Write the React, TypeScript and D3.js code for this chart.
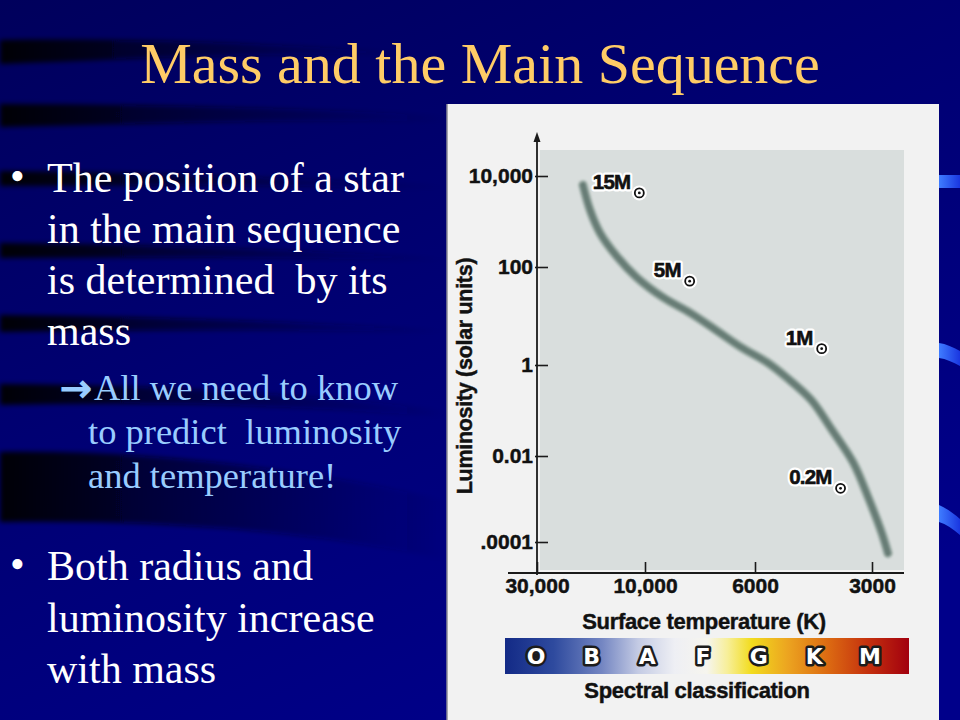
import React, { useEffect, useRef } from 'react';
import * as d3 from 'd3';

// Main sequence track: surface temperature (K) and luminosity (solar units)
const trackTemps = [18800, 17500, 15800, 13300, 10900, 9200, 8100, 7200, 6400, 5600, 5000, 4300, 3800, 3350, 3050, 2830, 2730];
const trackLums = [6300, 1800, 560, 170, 62, 24, 11.5, 5.2, 2.3, 1.15, 0.55, 0.17, 0.037, 0.0069, 0.00095, 0.00016, 0.000055];

// Mass labels, placed in data space
const massLabels = ['15M', '5M', '1M', '0.2M'];
const massLabelTemps = [17000, 9600, 5000, 4900];
const massLabelLums = [5200, 62, 2.6, 0.0022];

const tempTicks = [30000, 10000, 6000, 3000];
const tempTickLabels = ['30,000', '10,000', '6000', '3000'];
const lumTicks = [1e4, 1e2, 1, 1e-2, 1e-4];
const lumTickLabels = ['10,000', '100', '1', '0.01', '.0001'];

const spectralClasses = ['O', 'B', 'A', 'F', 'G', 'K', 'M'];

const bullet1 = ['The position of a star', 'in the main sequence', 'is determined  by its', 'mass'];
const subBullet = ['All we need to know', 'to predict  luminosity', 'and temperature!'];
const bullet2 = ['Both radius and', 'luminosity increase', 'with mass'];

const SERIF = '"Liberation Serif", "Times New Roman", serif';
const SANS = '"Liberation Sans", Arial, Helvetica, sans-serif';

const App: React.FC = () => {
  const svgRef = useRef<SVGSVGElement>(null);

  useEffect(() => {
    if (!svgRef.current) return;
    document.body.style.margin = '0';
    const svg = d3.select(svgRef.current);
    svg.selectAll('*').remove();

    const defs = svg.append('defs');

    // background gradient
    const bg = defs.append('linearGradient').attr('id', 'bg')
      .attr('x1', 0).attr('y1', 0).attr('x2', 0.6).attr('y2', 1);
    bg.append('stop').attr('offset', '0%').attr('stop-color', '#00005c');
    bg.append('stop').attr('offset', '50%').attr('stop-color', '#000074');
    bg.append('stop').attr('offset', '100%').attr('stop-color', '#00008a');

    const band = defs.append('linearGradient').attr('id', 'band')
      .attr('x1', 0).attr('y1', 0).attr('x2', 1).attr('y2', 0);
    band.append('stop').attr('offset', '0%').attr('stop-color', '#000000').attr('stop-opacity', 0.95);
    band.append('stop').attr('offset', '45%').attr('stop-color', '#000010').attr('stop-opacity', 0.5);
    band.append('stop').attr('offset', '100%').attr('stop-color', '#000030').attr('stop-opacity', 0);

    const streak = defs.append('linearGradient').attr('id', 'streak')
      .attr('x1', 0).attr('y1', 0).attr('x2', 1).attr('y2', 0);
    streak.append('stop').attr('offset', '0%').attr('stop-color', '#3f7cff');
    streak.append('stop').attr('offset', '100%').attr('stop-color', '#1a36e0');

    const spec = defs.append('linearGradient').attr('id', 'spec')
      .attr('x1', 0).attr('y1', 0).attr('x2', 1).attr('y2', 0);
    [
      ['0%', '#132a86'], ['12%', '#2e4a9e'], ['24%', '#7486c2'], ['33%', '#c4cbe4'],
      ['42%', '#eeeff4'], ['50%', '#f6f5ee'], ['55%', '#f7ef9a'], ['61%', '#f2dc1e'],
      ['70%', '#eca420'], ['80%', '#dc6a12'], ['90%', '#c4300e'], ['100%', '#a2000e'],
    ].forEach(([o, c]) => spec.append('stop').attr('offset', o).attr('stop-color', c));

    const blur = defs.append('filter').attr('id', 'soft')
      .attr('x', '-10%').attr('y', '-10%').attr('width', '120%').attr('height', '120%');
    blur.append('feGaussianBlur').attr('stdDeviation', 1.3);

    const blurBig = defs.append('filter').attr('id', 'softer')
      .attr('x', '-10%').attr('y', '-50%').attr('width', '120%').attr('height', '200%');
    blurBig.append('feGaussianBlur').attr('stdDeviation', 2.5);

    // slide background
    svg.append('rect').attr('width', 960).attr('height', 720).attr('fill', 'url(#bg)');

    const bands = [
      'M0,40 C120,38 260,42 420,54 C260,52 120,60 0,64 Z',
      'M0,104 C150,104 300,108 447,116 L447,122 C300,118 150,124 0,127 Z',
      'M0,171 C150,172 300,178 447,186 L447,189 C300,185 150,185 0,186 Z',
      'M0,243 C150,244 300,250 447,258 L447,261 C300,257 150,257 0,258 Z',
      'M0,315 C150,316 300,322 447,330 L447,333 C300,329 150,330 0,332 Z',
      'M0,384 C150,384 300,394 447,410 L447,418 C300,404 150,402 0,405 Z',
      'M0,452 C150,450 300,468 447,500 L447,560 C300,528 150,520 0,522 Z',
    ];
    svg.append('g').attr('filter', 'url(#softer)').selectAll('path').data(bands).join('path')
      .attr('d', d => d).attr('fill', 'url(#band)');

    const streaks = [
      'M939,175 L960,175 L960,188 L939,188 Z',
      'M939,343 C946,344 953,347 960,351 L960,366 C953,362 946,359 939,358 Z',
      'M939,505 C946,508 953,513 960,519 L960,535 C953,529 946,524 939,522 Z',
    ];
    svg.append('g').selectAll('path').data(streaks).join('path')
      .attr('d', d => d).attr('fill', 'url(#streak)');

    // title
    svg.append('text').attr('x', 480).attr('y', 83).attr('text-anchor', 'middle')
      .attr('font-family', SERIF).attr('font-size', 58).attr('fill', '#ffcc66')
      .text('Mass and the Main Sequence');

    // bullets
    const txt = svg.append('g').attr('font-family', SERIF);
    txt.append('text').attr('x', 10).attr('y', 190).attr('font-size', 42).attr('fill', '#fff').text('•');
    bullet1.forEach((s, i) => {
      txt.append('text').attr('x', 47).attr('y', 192 + i * 51).attr('font-size', 42)
        .attr('fill', '#ffffff').style('white-space', 'pre').text(s);
    });
    txt.append('text').attr('x', 60).attr('y', 401).attr('font-family', '"DejaVu Sans", sans-serif')
      .attr('font-size', 38).attr('fill', '#99ccff').attr('stroke', '#99ccff').attr('stroke-width', 1.4)
      .text('→');
    subBullet.forEach((s, i) => {
      txt.append('text').attr('x', i === 0 ? 94 : 88).attr('y', 400 + i * 44).attr('font-size', 36.5)
        .attr('fill', '#99ccff').style('white-space', 'pre').text(s);
    });
    txt.append('text').attr('x', 10).attr('y', 578).attr('font-size', 42).attr('fill', '#fff').text('•');
    bullet2.forEach((s, i) => {
      txt.append('text').attr('x', 47).attr('y', 580 + i * 51.5).attr('font-size', 42)
        .attr('fill', '#ffffff').text(s);
    });

    // figure panel
    svg.append('rect').attr('x', 447).attr('y', 104).attr('width', 492).attr('height', 616).attr('fill', '#f2f2f2');
    svg.append('line').attr('x1', 447).attr('x2', 447).attr('y1', 104).attr('y2', 720)
      .attr('stroke', '#8a8a96').attr('stroke-width', 1.5);

    const plot = { left: 540, right: 904, top: 150, bottom: 570, axisY: 573 };
    svg.append('rect').attr('x', plot.left).attr('y', plot.top)
      .attr('width', plot.right - plot.left).attr('height', plot.bottom - plot.top).attr('fill', '#d9dedd');

    // non-uniform scales of the original diagram (piecewise log)
    const x = d3.scaleLog().domain(tempTicks).range([537, 645, 755, 872]);
    const y = d3.scaleLog().domain(lumTicks).range([176, 267, 365, 456, 542]);
    const x0 = x(tempTicks[0]);

    // main sequence band
    const line = d3.line<number>()
      .x(i => x(trackTemps[i]))
      .y(i => y(trackLums[i]))
      .curve(d3.curveCatmullRom.alpha(0.5));
    const idx = d3.range(trackTemps.length);
    svg.append('path').datum(idx).attr('d', line).attr('fill', 'none')
      .attr('stroke', '#a7b6b0').attr('stroke-width', 10).attr('stroke-linecap', 'round')
      .attr('filter', 'url(#soft)');
    svg.append('path').datum(idx).attr('d', line).attr('fill', 'none')
      .attr('stroke', '#687d76').attr('stroke-width', 6).attr('stroke-linecap', 'round')
      .attr('filter', 'url(#soft)');

    // axes
    const axisColor = '#1a1a1a';
    const heavy = (sel: d3.Selection<any, any, any, any>, size: number) =>
      sel.attr('font-family', SANS).attr('font-size', size).attr('font-weight', 700)
        .attr('fill', '#111').attr('stroke', '#111').attr('stroke-width', 0.45);

    const yAxis = svg.append('g').attr('transform', `translate(${x0},0)`)
      .call(d3.axisLeft(y).tickValues(lumTicks).tickFormat((_, i) => lumTickLabels[i])
        .tickSizeInner(-11).tickSizeOuter(0).tickPadding(4));
    yAxis.select('.domain').remove();
    yAxis.selectAll('line').attr('stroke', axisColor).attr('stroke-width', 1.6).attr('x1', -2);
    heavy(yAxis.selectAll('text'), 21);

    const xAxis = svg.append('g').attr('transform', `translate(0,${plot.axisY})`)
      .call(d3.axisBottom(x).tickValues(tempTicks).tickFormat((_, i) => tempTickLabels[i])
        .tickSizeInner(-11).tickSizeOuter(0).tickPadding(5));
    xAxis.select('.domain').remove();
    xAxis.selectAll('line').attr('stroke', axisColor).attr('stroke-width', 1.6);
    heavy(xAxis.selectAll('text'), 21);

    svg.append('line').attr('x1', 508).attr('x2', plot.right).attr('y1', plot.axisY).attr('y2', plot.axisY)
      .attr('stroke', axisColor).attr('stroke-width', 1.8);
    svg.append('line').attr('x1', x0).attr('x2', x0).attr('y1', 138).attr('y2', plot.axisY + 2)
      .attr('stroke', axisColor).attr('stroke-width', 1.8);
    svg.append('path').attr('d', `M${x0},132 L${x0 - 3.5},142 L${x0 + 3.5},142 Z`).attr('fill', axisColor);

    // axis titles
    heavy(svg.append('text').attr('transform', `translate(472,376) rotate(-90)`).attr('text-anchor', 'middle'), 21.5)
      .attr('letter-spacing', -0.3).text('Luminosity (solar units)');
    heavy(svg.append('text').attr('x', 704).attr('y', 629).attr('text-anchor', 'middle'), 22)
      .attr('letter-spacing', -0.3).text('Surface temperature (K)');

    // mass labels with solar symbol
    const ml = svg.append('g');
    massLabels.forEach((s, i) => {
      const lx = x(massLabelTemps[i]);
      const ly = y(massLabelLums[i]);
      const halo = ml.append('text').attr('x', lx).attr('y', ly)
        .attr('font-family', SANS).attr('font-size', 20.5).attr('font-weight', 700)
        .attr('letter-spacing', -0.8)
        .attr('fill', '#ffffff').attr('stroke', '#ffffff').attr('stroke-width', 5)
        .attr('stroke-linejoin', 'round').text(s);
      ml.append('text').attr('x', lx).attr('y', ly)
        .attr('font-family', SANS).attr('font-size', 20.5).attr('font-weight', 700)
        .attr('letter-spacing', -0.8)
        .attr('fill', '#111').attr('stroke', '#111').attr('stroke-width', 0.6).text(s);
      const len = (halo.node() as SVGTextElement).getComputedTextLength();
      const cx = lx + len + 9;
      const cy = ly + 4;
      ml.append('circle').attr('cx', cx).attr('cy', cy).attr('r', 7.5).attr('fill', '#ffffff');
      ml.append('circle').attr('cx', cx).attr('cy', cy).attr('r', 4.5).attr('fill', '#ffffff')
        .attr('stroke', '#111').attr('stroke-width', 1.8);
      ml.append('circle').attr('cx', cx).attr('cy', cy).attr('r', 1.4).attr('fill', '#111');
    });

    // spectral classification bar
    const bar = { x: 505, y: 638, w: 404, h: 36 };
    svg.append('rect').attr('x', bar.x).attr('y', bar.y).attr('width', bar.w).attr('height', bar.h)
      .attr('fill', 'url(#spec)');
    const sx = d3.scalePoint<string>().domain(spectralClasses).range([536, 870]);
    const sg = svg.append('g');
    spectralClasses.forEach(c => {
      sg.append('text').attr('x', sx(c)!).attr('y', bar.y + bar.h / 2).attr('dy', '0.37em')
        .attr('text-anchor', 'middle').attr('font-family', '"DejaVu Sans", sans-serif')
        .attr('font-size', 22).attr('font-weight', 700)
        .attr('fill', '#ffffff').attr('stroke', '#1c1c1c').attr('stroke-width', 5)
        .attr('stroke-linejoin', 'round').attr('paint-order', 'stroke').text(c);
      if (c === 'O') {
        sg.append('circle').attr('cx', sx(c)!).attr('cy', bar.y + bar.h / 2).attr('r', 2.6).attr('fill', '#1c1c1c');
      }
    });
    heavy(svg.append('text').attr('x', 697).attr('y', 698).attr('text-anchor', 'middle'), 22)
      .attr('letter-spacing', -0.3).text('Spectral classification');
  }, []);

  return (
    <div style={{ width: 960, height: 720 }}>
      <svg ref={svgRef} width={960} height={720} style={{ display: 'block' }} />
    </div>
  );
};

export default App;
